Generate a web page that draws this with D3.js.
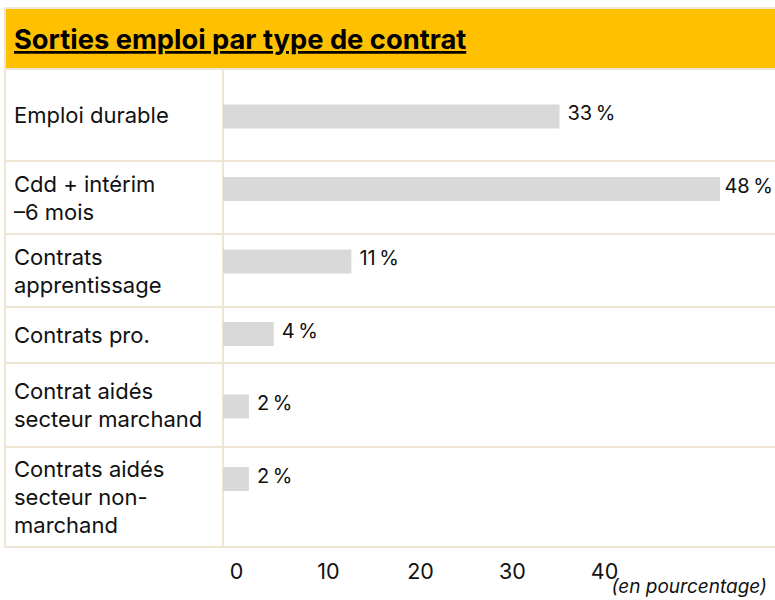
<!DOCTYPE html>
<head>
<meta charset="utf-8">
<script src="https://d3js.org/d3.v7.min.js"></script>
<style>
    body { margin: 0; background: #fff; }
    svg text { font-family: Inter, "Noto Sans", sans-serif; fill: #111; }
</style>
</head>
<body>
<div id="container"></div>
<script>
    // données
    var categoryLines = [
        ["Emploi durable"],
        ["Cdd + intérim", "–6 mois"],
        ["Contrats", "apprentissage"],
        ["Contrats pro."],
        ["Contrat aidés", "secteur marchand"],
        ["Contrats aidés", "secteur non-", "marchand"]
    ];
    var categories = categoryLines.map(l => l.join(" "));
    var barValues = [32.5, 48, 12.4, 4.9, 2.5, 2.5];
    var valueLabels = ["33\u202F%", "48\u202F%", "11\u202F%", "4\u202F%", "2\u202F%", "2\u202F%"];
    var tickValues = [0, 10, 20, 30, 40];
    var title = "Sorties emploi par type de contrat";
    var unitNote = "(en pourcentage)";

    // mise en page du tableau
    var W = 775, H = 600;
    var left = 5, headTop = 8, headBottom = 69, divX = 223;
    var rowEdges = [69, 161, 234, 307, 363, 447, 547];
    var lineColor = '#eee5d5';

    var svg = d3.select("#container").append("svg").attr('width', W).attr('height', H);

    // bandeau jaune
    svg.append('rect').attr('x', left).attr('y', headTop).attr('width', W - left).attr('height', headBottom - headTop)
        .attr('fill', '#ffc000');
    svg.append('text').text(title).attr('x', 14).attr('y', 49)
        .style('font-size', '27.3px').style('font-weight', 'bold').style('text-decoration', 'underline')
        .style('fill', '#000');

    // lignes du tableau
    svg.append('line').attr('x1', left).attr('x2', W).attr('y1', headTop).attr('y2', headTop).attr('stroke', lineColor).attr('stroke-width', 2);
    svg.append('line').attr('x1', left).attr('x2', left).attr('y1', headTop).attr('y2', rowEdges[6]).attr('stroke', lineColor).attr('stroke-width', 2);
    svg.append('line').attr('x1', divX).attr('x2', divX).attr('y1', headBottom).attr('y2', rowEdges[6]).attr('stroke', lineColor).attr('stroke-width', 2);
    svg.selectAll('line.row').data(rowEdges).enter().append('line').attr('class', 'row')
        .attr('x1', left).attr('x2', W).attr('y1', d => d).attr('y2', d => d)
        .attr('stroke', lineColor).attr('stroke-width', 2);

    // libellés des lignes, centrés dans chaque ligne
    var lineH = 28;
    var labels = svg.append('g').selectAll('text').data(categoryLines).enter().append('text')
        .style('font-size', '22px');
    labels.each(function(lines, i) {
        var mid = (rowEdges[i] + rowEdges[i + 1]) / 2;
        var y0 = mid - (lines.length - 1) * lineH / 2 + 8;
        d3.select(this).selectAll('tspan').data(lines).enter().append('tspan')
            .attr('x', 14).attr('y', (d, j) => y0 + j * lineH).text(d => d);
    });

    // échelles
    var x = d3.scaleLinear().domain([0, 48]).range([divX, 720]);
    var y = d3.scalePoint().domain(categories).range([116.5, 479]);
    var barH = 24;

    svg.append('g').selectAll('rect').data(barValues).enter().append('rect')
        .attr('x', x(0)).attr('y', (d, i) => y(categories[i]) - barH / 2)
        .attr('width', d => x(d) - x(0)).attr('height', barH)
        .attr('fill', '#d9d9d9');

    // étiquettes de valeur, gardées dans la largeur
    svg.append('g').selectAll('text').data(barValues).enter().append('text')
        .attr('y', (d, i) => y(categories[i]) + 3.5)
        .style('font-size', '20px')
        .text((d, i) => valueLabels[i])
        .attr('x', function(d) {
            var w = this.getComputedTextLength();
            return Math.min(x(d) + 8, W - 2 - w);
        });

    // axe des abscisses
    var xTick = d3.scaleLinear().domain([0, 40]).range([236, 604]);
    var axisG = svg.append('g').attr('transform', 'translate(0,579)')
        .call(d3.axisBottom(xTick).tickValues(tickValues).tickSize(0).tickFormat(d3.format('d')));
    axisG.select('.domain').remove();
    axisG.selectAll('text').attr('y', 0).attr('dy', null)
        .style('font-size', '21.5px').attr('font-family', null).style('fill', '#111');

    svg.append('text').text(unitNote).attr('x', 767).attr('y', 593)
        .attr('text-anchor', 'end').style('font-size', '19px').style('font-style', 'italic');
</script>
</body>
